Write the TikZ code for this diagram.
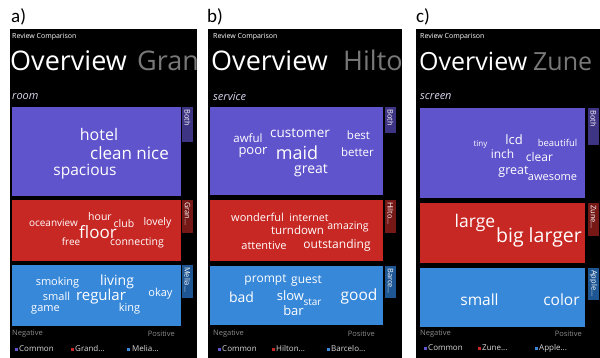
\documentclass[tikz,border=0pt]{standalone}
\usepackage{fontspec}
\newfontfamily\phone{Open Sans}
\newfontfamily\lab{Carlito}
\newcommand\fsz[1]{\fontsize{#1}{#1}\selectfont}
\definecolor{cpur}{RGB}{96,84,204}
\definecolor{cpurtab}{RGB}{62,52,132}
\definecolor{cred}{RGB}{200,40,36}
\definecolor{credtab}{RGB}{118,24,22}
\definecolor{cblu}{RGB}{56,136,218}
\definecolor{cblutab}{RGB}{30,86,148}
\definecolor{ghead}{RGB}{120,120,120}
\definecolor{glab}{RGB}{140,140,140}
\definecolor{sect}{RGB}{215,212,235}
\tikzset{
  w/.style={text=white, inner sep=0pt, font=\phone},
  tabtxt/.style={text=white, inner sep=0pt, font=\phone\fsz{7.5}, rotate=-90, anchor=west},
  rc/.style={text=white, inner sep=0pt, font=\phone\fsz{7}, anchor=west},
  hdr/.style={text=white, inner sep=0pt, font=\phone\fsz{27}, anchor=base west},
  hdrg/.style={text=ghead, inner sep=0pt, font=\phone\fsz{27}, anchor=base west},
  sec/.style={text=sect, inner sep=0pt, font=\phone\itshape\fsz{11}, anchor=west},
  np/.style={text=glab, inner sep=0pt, font=\phone\fsz{7.5}},
  leg/.style={text=white!85!black, inner sep=0pt, font=\phone\fsz{8}, anchor=west},
  sq/.style={minimum size=3pt, inner sep=0pt},
  plab/.style={inner sep=0pt, font=\lab\fsz{19}, anchor=north west}
}
\begin{document}
\begin{tikzpicture}[x=1pt,y=-1pt]
\useasboundingbox[fill=white] (0,0) rectangle (600,358);
% labels
\node[plab] (la) at (11,8) {a)};
\node[plab] (lb) at (207,8) {b)};
\node[plab] (lc) at (416,8) {c)};

% ---------------- panel a ----------------
\begin{scope}
\clip (10,29) rectangle (197,358);
\fill[black] (10,29) rectangle (197,358);
\node[rc] (a-rc) at (12,37) {Review Comparison};
\node[hdr] (a-ov) at (10,71) {Overview};
\node[hdrg] (a-nm) at (137,71) {Grand};
\node[sec] (a-sec) at (12,97) {room};
\fill[cpur] (12,107) rectangle (181,196);
\fill[cpurtab] (182,107) rectangle (193,142);
\fill[cred] (12,200) rectangle (181,261);
\fill[credtab] (182,200) rectangle (193,233);
\fill[cblu] (12,265) rectangle (181,326);
\fill[cblutab] (182,265) rectangle (193,298);
\node[tabtxt] (a-t1) at (187.5,109) {Both};
\node[tabtxt] (a-t2) at (187.5,202) {Gran...};
\node[tabtxt] (a-t3) at (187.5,267) {Melia...};
\node[w] (a1) at (99,135) {\fsz{16}hotel};
\node[w] (a2) at (129.5,153) {\fsz{17}clean nice};
\node[w] (a3) at (85,172) {\fsz{15.5}spacious};
\node[w] (a4) at (53.5,223) {\fsz{10}oceanview};
\node[w] (a5) at (100,217) {\fsz{10.5}hour};
\node[w] (a6) at (124,224) {\fsz{10.5}club};
\node[w] (a7) at (157.5,223) {\fsz{10.5}lovely};
\node[w] (a8) at (98,232) {\fsz{17}floor};
\node[w] (a9) at (71,242) {\fsz{10}free};
\node[w] (a10) at (137,243) {\fsz{10.5}connecting};
\node[w] (a11) at (57.5,283) {\fsz{11}smoking};
\node[w] (a12) at (117,282) {\fsz{14}living};
\node[w] (a13) at (56.5,296) {\fsz{11}small};
\node[w] (a14) at (101,297) {\fsz{15}regular};
\node[w] (a15) at (160.5,294) {\fsz{11}okay};
\node[w] (a16) at (45.5,310) {\fsz{11}game};
\node[w] (a17) at (129.5,309) {\fsz{11}king};
\node[np, anchor=west] (a-neg) at (12,334) {Negative};
\node[np, anchor=east] (a-pos) at (175,334) {Positive};
\node[sq, fill=cpur] (a-s1) at (16,349) {};
\node[leg] (a-l1) at (19,349) {Common};
\node[sq, fill=cred] (a-s2) at (72,349) {};
\node[leg] (a-l2) at (75,349) {Grand...};
\node[sq, fill=cblu] (a-s3) at (128,349) {};
\node[leg] (a-l3) at (132,349) {Melia...};
\end{scope}

% ---------------- panel b ----------------
\begin{scope}
\clip (208,29) rectangle (402,358);
\fill[black] (208,29) rectangle (402,358);
\node[rc] (b-rc) at (213,37) {Review Comparison};
\node[hdr] (b-ov) at (211,71) {Overview};
\node[hdrg] (b-nm) at (343,71) {Hilton};
\node[sec] (b-sec) at (213,97) {service};
\fill[cpur] (210,107) rectangle (383,195);
\fill[cpurtab] (385,107) rectangle (396,133);
\fill[cred] (210,200) rectangle (383,261);
\fill[credtab] (385,200) rectangle (396,233);
\fill[cblu] (210,266) rectangle (383,325);
\fill[cblutab] (385,266) rectangle (396,298);
\node[tabtxt] (b-t1) at (390.5,109) {Both};
\node[tabtxt] (b-t2) at (390.5,202) {Hilto...};
\node[tabtxt] (b-t3) at (390.5,268) {Barce...};
\node[w] (b1) at (248,138) {\fsz{11.5}awful};
\node[w] (b2) at (300,133) {\fsz{13.5}customer};
\node[w] (b3) at (358.5,135) {\fsz{11.5}best};
\node[w] (b4) at (253,153) {\fsz{13}poor};
\node[w] (b5) at (297,153) {\fsz{18}maid};
\node[w] (b6) at (357.5,152) {\fsz{11.5}better};
\node[w] (b7) at (311,171) {\fsz{14}great};
\node[w] (b8) at (257.5,217) {\fsz{11}wonderful};
\node[w] (b9) at (309,218) {\fsz{10.5}internet};
\node[w] (b10) at (297.5,230) {\fsz{11.5}turndown};
\node[w] (b11) at (348,227) {\fsz{10.5}amazing};
\node[w] (b12) at (264,246) {\fsz{11}attentive};
\node[w] (b13) at (337,245) {\fsz{12}outstanding};
\node[w] (b14) at (265.5,280) {\fsz{12}prompt};
\node[w] (b15) at (306.5,281) {\fsz{12}guest};
\node[w] (b16) at (241.5,297) {\fsz{14}bad};
\node[w] (b17) at (290.5,296) {\fsz{13}slow};
\node[w] (b18) at (312.5,302) {\fsz{10}star};
\node[w] (b19) at (293.5,311) {\fsz{13}bar};
\node[w] (b20) at (359,296) {\fsz{15.5}good};
\node[np, anchor=west] (b-neg) at (213,334) {Negative};
\node[np, anchor=east] (b-pos) at (375,334) {Positive};
\node[sq, fill=cpur] (b-s1) at (219,349) {};
\node[leg] (b-l1) at (222,349) {Common};
\node[sq, fill=cred] (b-s2) at (273,349) {};
\node[leg] (b-l2) at (276,349) {Hilton...};
\node[sq, fill=cblu] (b-s3) at (328,349) {};
\node[leg] (b-l3) at (331,349) {Barcelo...};
\end{scope}

% ---------------- panel c ----------------
\begin{scope}
\clip (416,29) rectangle (600,358);
\fill[black] (416,29) rectangle (600,358);
\node[rc] (c-rc) at (420,37) {Review Comparison};
\node[hdr, font=\phone\fsz{25}] (c-ov) at (419,71) {Overview};
\node[hdrg, font=\phone\fsz{25}] (c-nm) at (533,71) {Zune};
\node[sec] (c-sec) at (420,97) {screen};
\fill[cpur] (420,108) rectangle (585,198);
\fill[cpurtab] (588,108) rectangle (599,145);
\fill[cred] (420,203) rectangle (585,263);
\fill[credtab] (588,203) rectangle (599,236);
\fill[cblu] (420,268) rectangle (585,327);
\fill[cblutab] (588,268) rectangle (599,300);
\node[tabtxt] (c-t1) at (593.5,110) {Both};
\node[tabtxt] (c-t2) at (593.5,205) {Zune...};
\node[tabtxt] (c-t3) at (593.5,270) {Apple...};
\node[w] (c1) at (480.5,145) {\fsz{8}tiny};
\node[w] (c2) at (514,140) {\fsz{13}lcd};
\node[w] (c3) at (557.5,143) {\fsz{9.5}beautiful};
\node[w] (c4) at (502.5,154) {\fsz{12}inch};
\node[w] (c5) at (539.5,157) {\fsz{12}clear};
\node[w] (c6) at (513.5,172) {\fsz{12.5}great};
\node[w] (c7) at (552.5,178) {\fsz{11}awesome};
\node[w] (c8) at (475,223) {\fsz{17.5}large};
\node[w] (c9) at (539,237) {\fsz{19.5}big larger};
\node[w] (c10) at (479.5,300) {\fsz{15.5}small};
\node[w] (c11) at (561.5,300) {\fsz{15.5}color};
\node[np, anchor=west] (c-neg) at (420,334) {Negative};
\node[np, anchor=east] (c-pos) at (582,334) {Positive};
\node[sq, fill=cpur] (c-s1) at (425,348) {};
\node[leg] (c-l1) at (428,348) {Common};
\node[sq, fill=cred] (c-s2) at (479,348) {};
\node[leg] (c-l2) at (482,348) {Zune...};
\node[sq, fill=cblu] (c-s3) at (536,348) {};
\node[leg] (c-l3) at (539,348) {Apple...};
\end{scope}
\end{tikzpicture}
\end{document}
